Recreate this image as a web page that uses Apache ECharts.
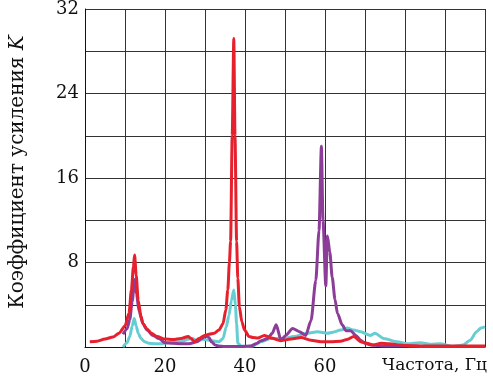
<!DOCTYPE html>
<html><head><meta charset="utf-8">
<script src="https://cdn.jsdelivr.net/npm/echarts@6/dist/echarts.min.js"></script>
<style>html,body{margin:0;padding:0;background:#fff}#c{width:493px;height:380px}</style>
</head><body><div id="c"></div>
<script>
const xTickLabels = [0, 20, 40, 60];
const yTickLabels = [8, 16, 24, 32];
const xAxisTitle = 'Частота, Гц';
const yAxisTitle = 'Коэффициент усиления ';
const yAxisVar = 'K';

const redX = [1.2, 3, 5, 7, 8.5, 10, 11, 11.6, 12.1, 12.4, 12.8, 13.3, 14, 14.5, 15.5, 16.6, 18, 20, 22, 24, 25.8, 26.5, 27.4, 28.5, 29.9, 31, 32.3, 33.5, 34.5, 35.2, 35.7, 36.1, 36.4, 36.8, 37.2, 37.5, 37.9, 38.2, 38.6, 39.2, 39.9, 41, 42, 43.2, 44.8, 46.5, 49, 51.5, 54, 56.5, 59, 61.4, 63.9, 65.5, 67.2, 68.9, 70.5, 72.1, 74, 76, 80, 85, 90, 95, 100];
const redY = [0.5, 0.55, 0.75, 0.95, 1.3, 2.0, 3.2, 5.4, 7.6, 8.7, 6.8, 4.4, 2.9, 2.2, 1.7, 1.3, 1.0, 0.75, 0.7, 0.8, 1.0, 0.8, 0.5, 0.8, 1.1, 1.2, 1.3, 1.6, 2.2, 3.5, 5.4, 8, 10, 20, 29.2, 20, 10, 6.5, 3.8, 2.4, 1.6, 1.0, 0.9, 0.85, 1.1, 0.85, 0.6, 0.75, 0.9, 0.65, 0.5, 0.5, 0.55, 0.7, 1.0, 0.5, 0.35, 0.2, 0.35, 0.3, 0.15, 0.1, 0.1, 0.1, 0.1];

const cyanX = [9.5, 10.5, 11.2, 11.8, 12.3, 12.8, 13.3, 14, 14.9, 16, 17.5, 19, 20.5, 22, 24, 26, 26.8, 28, 29.5, 31, 32.5, 33.5, 34.5, 35.3, 36, 36.6, 37.2, 37.6, 37.9, 38.2, 39, 40.5, 42, 44, 46.5, 49.8, 52.2, 55.6, 58.1, 60.6, 62, 63.9, 65.5, 67.2, 68.9, 71.4, 72.5, 74.7, 78, 80.5, 83.8, 86.3, 88.8, 92, 94.5, 96.3, 97.9, 99, 100];
const cyanY = [0, 0.4, 1.0, 2.0, 2.7, 2.0, 1.3, 0.8, 0.5, 0.35, 0.3, 0.3, 0.4, 0.5, 0.5, 0.75, 0.8, 0.6, 0.7, 0.65, 0.55, 0.5, 0.8, 1.9, 3.0, 4.4, 5.4, 4.0, 2.2, 0.35, 0.1, 0.05, 0.1, 0.5, 0.8, 0.8, 1.0, 1.3, 1.45, 1.3, 1.4, 1.6, 1.8, 1.6, 1.45, 1.1, 1.3, 0.8, 0.5, 0.3, 0.4, 0.25, 0.3, 0.05, 0.2, 0.65, 1.45, 1.8, 1.9];

const purpleX = [9.5, 10.5, 11.2, 11.8, 12.4, 12.9, 13.5, 14.5, 15.5, 17, 18.5, 20, 22, 24, 26, 28, 29.2, 30.2, 31, 31.6, 32.5, 33.3, 35, 37, 39, 41.5, 43, 44, 45.7, 46.8, 47.8, 49, 50.2, 51.9, 53.6, 55.2, 56.5, 57.7, 58.5, 59.1, 59.5, 60.2, 60.6, 61.2, 61.8, 62.5, 63.1, 64.3, 65.2, 66.4, 67.7, 68.9, 70, 71.4, 75, 80, 85, 90, 95, 100];
const purpleY = [1.2, 1.7, 2.6, 4.3, 6.4, 5.0, 3.4, 2.2, 1.6, 1.1, 0.8, 0.4, 0.35, 0.3, 0.3, 0.5, 0.8, 1.05, 0.9, 0.5, 0.2, 0.1, 0.05, 0.05, 0.05, 0.1, 0.35, 0.6, 0.8, 1.3, 2.1, 0.65, 1.1, 1.75, 1.45, 1.1, 2.5, 6.3, 11, 19.0, 12, 5.8, 10.5, 9, 6.6, 4.5, 3.2, 2.1, 1.55, 1.55, 1.1, 0.65, 0.35, 0.2, 0.1, 0.1, 0.05, 0.05, 0.05, 0.05];

const pairs = (xs, ys) => xs.map((x, i) => [x, ys[i]]);
const FONT = 'DejaVu Serif';
const chart = echarts.init(document.getElementById('c'), null, {renderer: 'canvas'});
const mk = (name, xs, ys, color, z) => ({
  name, type: 'line', data: pairs(xs, ys), showSymbol: false, smooth: 0.25, smoothMonotone: 'x',
  lineStyle: {color, width: 3}, z, animation: false
});
chart.setOption({
  animation: false,
  grid: {left: 83, right: 8, top: 7, bottom: 33, containLabel: false},
  xAxis: {
    type: 'value', min: 0, max: 100, interval: 10,
    axisLine: {show: true, lineStyle: {color: '#111', width: 1}},
    axisTick: {show: false},
    splitLine: {show: true, lineStyle: {color: '#333', width: 1}},
    axisLabel: {
      margin: 11, color: '#111', fontFamily: FONT, fontSize: 18,
      formatter: v => xTickLabels.includes(v) ? String(v) : ''
    }
  },
  yAxis: {
    type: 'value', min: 0, max: 32, interval: 4,
    axisLine: {show: true, lineStyle: {color: '#111', width: 1}},
    axisTick: {show: false},
    splitLine: {show: true, lineStyle: {color: '#333', width: 1}},
    axisLabel: {
      margin: 6, color: '#111', fontFamily: FONT, fontSize: 18,
      formatter: v => yTickLabels.includes(v) ? String(v) : ''
    },
    name: '{a|' + yAxisTitle + '}{b|' + yAxisVar + '}',
    nameLocation: 'middle', nameGap: 57, nameRotate: 90,
    nameTextStyle: {
      padding: [0, 0, 0, 12],
      rich: {
        a: {fontFamily: FONT, fontSize: 20, color: '#111'},
        b: {fontFamily: FONT, fontSize: 20, color: '#111', fontStyle: 'italic'}
      }
    }
  },
  graphic: [{
    type: 'text', right: 6, top: 357,
    style: {text: xAxisTitle, font: '17px "' + FONT + '"', fill: '#111'}
  }],
  series: [
    mk('cyan', cyanX, cyanY, '#66cdd3', 3),
    mk('purple', purpleX, purpleY, '#8b3d97', 4),
    mk('red', redX, redY, '#e6202c', 5)
  ]
});
</script></body></html>
